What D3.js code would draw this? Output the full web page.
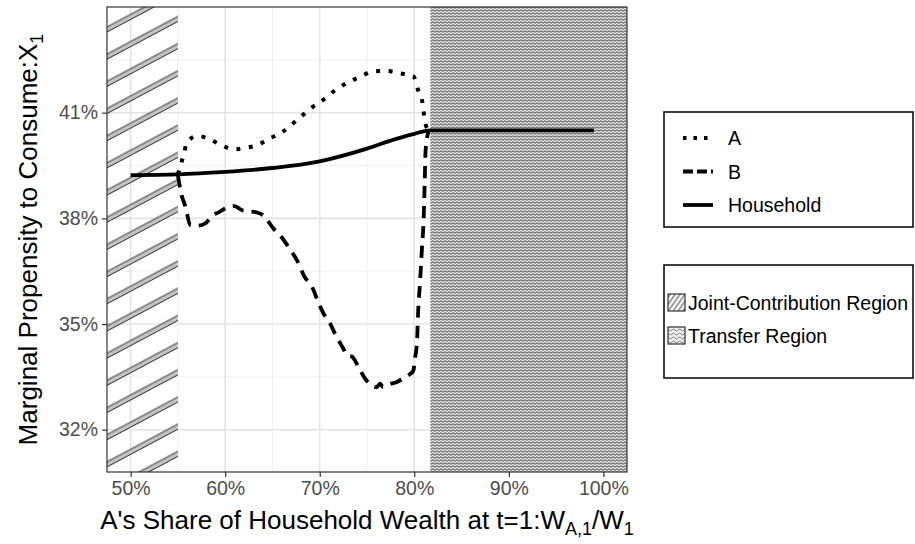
<!DOCTYPE html>
<html lang="en">
<head>
<meta charset="UTF-8">
<title>MPC chart</title>
<script src="https://d3js.org/d3.v7.min.js"></script>
<style>
  body { margin: 0; background: #fff; }
  text { font-family: "Liberation Sans", Arial, sans-serif; }
</style>
</head>
<body>
<script>
// ---- data ----
const householdShare = [50, 55, 60, 65, 70, 75, 78, 80, 81.7, 99];
const householdMpc   = [39.23, 39.25, 39.32, 39.43, 39.62, 39.98, 40.25, 40.4, 40.5, 40.5];

const aShare = [55.0, 55.6, 56.0, 57.1, 58.4, 59.6, 60.9, 62.1, 63.4, 64.7, 66.0, 67.1, 68.2, 69.3,
                70.5, 71.7, 73.0, 74.3, 75.6, 77.0, 78.4, 79.9, 80.4, 80.9, 81.1, 81.5];
const aMpc   = [39.25, 39.8, 40.18, 40.34, 40.24, 40.08, 39.96, 40.0, 40.08, 40.27, 40.44, 40.68, 40.93, 41.17,
                41.39, 41.65, 41.86, 42.02, 42.17, 42.19, 42.12, 42.04, 41.65, 41.24, 40.79, 40.5];

const bShare = [55.0, 55.4, 55.8, 56.3, 57.0, 57.9, 58.7, 59.3, 60.1, 61.0, 61.8, 62.6, 63.3, 64.0,
                65.2, 65.8, 66.9, 67.6, 68.4, 69.2, 69.9, 70.4, 71.1, 71.8, 72.5, 72.9, 73.4, 74.1,
                74.8, 75.5, 76.0, 76.4, 76.7, 77.4, 78.1, 78.8, 79.5, 79.9, 80.1, 80.3, 80.4, 80.6,
                80.8, 81.0, 81.1, 81.2, 81.5];
const bMpc   = [39.22, 38.65, 38.33, 37.81, 37.79, 37.86, 38.09, 38.17, 38.29, 38.35, 38.23, 38.2, 38.17, 38.09,
                37.68, 37.52, 37.10, 36.81, 36.34, 36.05, 35.58, 35.30, 35.01, 34.63, 34.30, 34.11, 34.08, 33.78,
                33.45, 33.26, 33.21, 33.31, 33.21, 33.29, 33.35, 33.45, 33.57, 33.68, 34.06, 34.54, 35.30, 36.15,
                37.10, 38.04, 38.99, 39.94, 40.46];

const jointRegion = [47.5, 55];
const transferRegion = [81.7, 102.5];

const xTicks = [50, 60, 70, 80, 90, 100];
const xMinor = [55, 65, 75, 85, 95];
const yTicks = [32, 35, 38, 41];
const yMinor = [33.5, 36.5, 39.5, 42.5];

const seriesNames = ["A", "B", "Household"];
const regionNames = ["Joint-Contribution Region", "Transfer Region"];

// ---- layout ----
const w = 915, h = 544;
const panel = { left: 107, right: 627, top: 7, bottom: 472 };

const svg = d3.select("body").append("svg")
  .attr("width", w).attr("height", h);

const x = d3.scaleLinear().domain([47.5, 102.5]).range([panel.left, panel.right]);
const y = d3.scaleLinear().domain([30.8, 44.0]).range([panel.bottom, panel.top]);

// patterns
const defs = svg.append("defs");

const stripe = defs.append("pattern")
  .attr("id", "stripes")
  .attr("patternUnits", "userSpaceOnUse")
  .attr("width", 40).attr("height", 24)
  .attr("patternTransform", "rotate(-28)");
stripe.append("rect").attr("x", 0).attr("y", 2).attr("width", 40).attr("height", 4.5).attr("fill", "#c4c4c4");
stripe.append("line").attr("x1", 0).attr("x2", 40).attr("y1", 2).attr("y2", 2).attr("stroke", "#3a3a3a").attr("stroke-width", 1.1);
stripe.append("line").attr("x1", 0).attr("x2", 40).attr("y1", 6.5).attr("y2", 6.5).attr("stroke", "#3a3a3a").attr("stroke-width", 1.1);

const stripeKey = defs.append("pattern")
  .attr("id", "stripesKey")
  .attr("patternUnits", "userSpaceOnUse")
  .attr("width", 10).attr("height", 4)
  .attr("patternTransform", "rotate(-55)");
stripeKey.append("rect").attr("width", 10).attr("height", 4).attr("fill", "#fff");
stripeKey.append("rect").attr("y", 1).attr("width", 10).attr("height", 1.6).attr("fill", "#888");

const wave = defs.append("pattern")
  .attr("id", "waves")
  .attr("patternUnits", "userSpaceOnUse")
  .attr("width", 4).attr("height", 3);
wave.append("rect").attr("width", 4).attr("height", 3).attr("fill", "#dcdcdc");
wave.append("path").attr("d", "M0,1.5 Q1,0 2,1.5 T4,1.5")
  .attr("fill", "none").attr("stroke", "#4a4a4a").attr("stroke-width", 1);

const waveKey = defs.append("pattern")
  .attr("id", "wavesKey")
  .attr("patternUnits", "userSpaceOnUse")
  .attr("width", 6).attr("height", 4);
waveKey.append("rect").attr("width", 6).attr("height", 4).attr("fill", "#eee");
waveKey.append("path").attr("d", "M0,2 Q1.5,0 3,2 T6,2")
  .attr("fill", "none").attr("stroke", "#666").attr("stroke-width", 0.8);

// gridlines
const grid = svg.append("g");
grid.selectAll(".xminor").data(xMinor).enter().append("line")
  .attr("x1", d => x(d)).attr("x2", d => x(d))
  .attr("y1", panel.top).attr("y2", panel.bottom)
  .attr("stroke", "#f0f0f0").attr("stroke-width", 1);
grid.selectAll(".yminor").data(yMinor).enter().append("line")
  .attr("x1", panel.left).attr("x2", panel.right)
  .attr("y1", d => y(d)).attr("y2", d => y(d))
  .attr("stroke", "#f0f0f0").attr("stroke-width", 1);
grid.selectAll(".xmajor").data(xTicks).enter().append("line")
  .attr("x1", d => x(d)).attr("x2", d => x(d))
  .attr("y1", panel.top).attr("y2", panel.bottom)
  .attr("stroke", "#e4e4e4").attr("stroke-width", 1.6);
grid.selectAll(".ymajor").data(yTicks).enter().append("line")
  .attr("x1", panel.left).attr("x2", panel.right)
  .attr("y1", d => y(d)).attr("y2", d => y(d))
  .attr("stroke", "#e4e4e4").attr("stroke-width", 1.6);

// regions
svg.append("rect")
  .attr("x", x(jointRegion[0])).attr("width", x(jointRegion[1]) - x(jointRegion[0]))
  .attr("y", panel.top).attr("height", panel.bottom - panel.top)
  .attr("fill", "url(#stripes)");
svg.append("rect")
  .attr("x", x(transferRegion[0])).attr("width", x(transferRegion[1]) - x(transferRegion[0]))
  .attr("y", panel.top).attr("height", panel.bottom - panel.top)
  .attr("fill", "url(#waves)");

// lines
const line = d3.line()
  .x(d => x(d[0])).y(d => y(d[1]))
  .curve(d3.curveMonotoneX);

svg.append("path")
  .datum(d3.zip(aShare, aMpc))
  .attr("d", line)
  .attr("fill", "none").attr("stroke", "#000")
  .attr("stroke-width", 4).attr("stroke-dasharray", "4 8.5");

svg.append("path")
  .datum(d3.zip(bShare, bMpc))
  .attr("d", line)
  .attr("fill", "none").attr("stroke", "#000")
  .attr("stroke-width", 3.8).attr("stroke-dasharray", "12 8");

svg.append("path")
  .datum(d3.zip(householdShare, householdMpc))
  .attr("d", line)
  .attr("fill", "none").attr("stroke", "#000")
  .attr("stroke-width", 3.8);

// panel border
svg.append("rect")
  .attr("x", panel.left).attr("y", panel.top)
  .attr("width", panel.right - panel.left).attr("height", panel.bottom - panel.top)
  .attr("fill", "none").attr("stroke", "#333").attr("stroke-width", 1.2);

// axes
const xAxis = d3.axisBottom(x).tickValues(xTicks).tickFormat(d => d + "%").tickSize(5).tickPadding(4);
const gx = svg.append("g").attr("transform", `translate(0,${panel.bottom})`).call(xAxis);
gx.select(".domain").remove();
gx.selectAll(".tick line").attr("stroke", "#333").attr("stroke-width", 1.2);
gx.selectAll(".tick text").attr("fill", "#4d4d4d").style("font-size", "19.5px")
  .style("font-family", "'Liberation Sans', Arial, sans-serif");

const yAxis = d3.axisLeft(y).tickValues(yTicks).tickFormat(d => d + "%").tickSize(5).tickPadding(4);
const gy = svg.append("g").attr("transform", `translate(${panel.left},0)`).call(yAxis);
gy.select(".domain").remove();
gy.selectAll(".tick line").attr("stroke", "#333").attr("stroke-width", 1.2);
gy.selectAll(".tick text").attr("fill", "#4d4d4d").style("font-size", "19.5px")
  .style("font-family", "'Liberation Sans', Arial, sans-serif");

// axis titles
const xt = svg.append("text")
  .attr("x", (panel.left + panel.right) / 2).attr("y", 529)
  .attr("text-anchor", "middle").style("font-size", "26px");
xt.append("tspan").text("A's Share of Household Wealth at t=1:W");
xt.append("tspan").attr("dy", 6).style("font-size", "18px").text("A,1");
xt.append("tspan").attr("dy", -6).text("/W");
xt.append("tspan").attr("dy", 6).style("font-size", "18px").text("1");

const yt = svg.append("text")
  .attr("transform", `translate(37,${(panel.top + panel.bottom) / 2}) rotate(-90)`)
  .attr("text-anchor", "middle").style("font-size", "26px");
yt.append("tspan").text("Marginal Propensity to Consume:X");
yt.append("tspan").attr("dy", 6).style("font-size", "18px").text("1");

// legend: lines
const leg1 = svg.append("g");
leg1.append("rect").attr("x", 664).attr("y", 112).attr("width", 249).attr("height", 115)
  .attr("fill", "#fff").attr("stroke", "#000").attr("stroke-width", 1.5);
const dashes = ["3.5 7", "10 4", null];
seriesNames.forEach((name, i) => {
  const yy = 138 + i * 33.5;
  const l = leg1.append("line").attr("x1", 683).attr("x2", 713).attr("y1", yy).attr("y2", yy)
    .attr("stroke", "#000").attr("stroke-width", 3.8);
  if (dashes[i]) l.attr("stroke-dasharray", dashes[i]);
  leg1.append("text").attr("x", 728).attr("y", yy + 7).style("font-size", "19.5px").text(name);
});

// legend: regions
const leg2 = svg.append("g");
leg2.append("rect").attr("x", 664).attr("y", 265).attr("width", 249).attr("height", 113)
  .attr("fill", "#fff").attr("stroke", "#000").attr("stroke-width", 1.5);
const keyFills = ["url(#stripesKey)", "url(#wavesKey)"];
regionNames.forEach((name, i) => {
  const yy = 303 + i * 33;
  leg2.append("rect").attr("x", 668).attr("y", yy - 9).attr("width", 17).attr("height", 17)
    .attr("fill", keyFills[i]).attr("stroke", "#333").attr("stroke-width", 1.2);
  leg2.append("text").attr("x", 688).attr("y", yy + 7).style("font-size", "19.5px").text(name);
});
</script>
</body>
</html>
